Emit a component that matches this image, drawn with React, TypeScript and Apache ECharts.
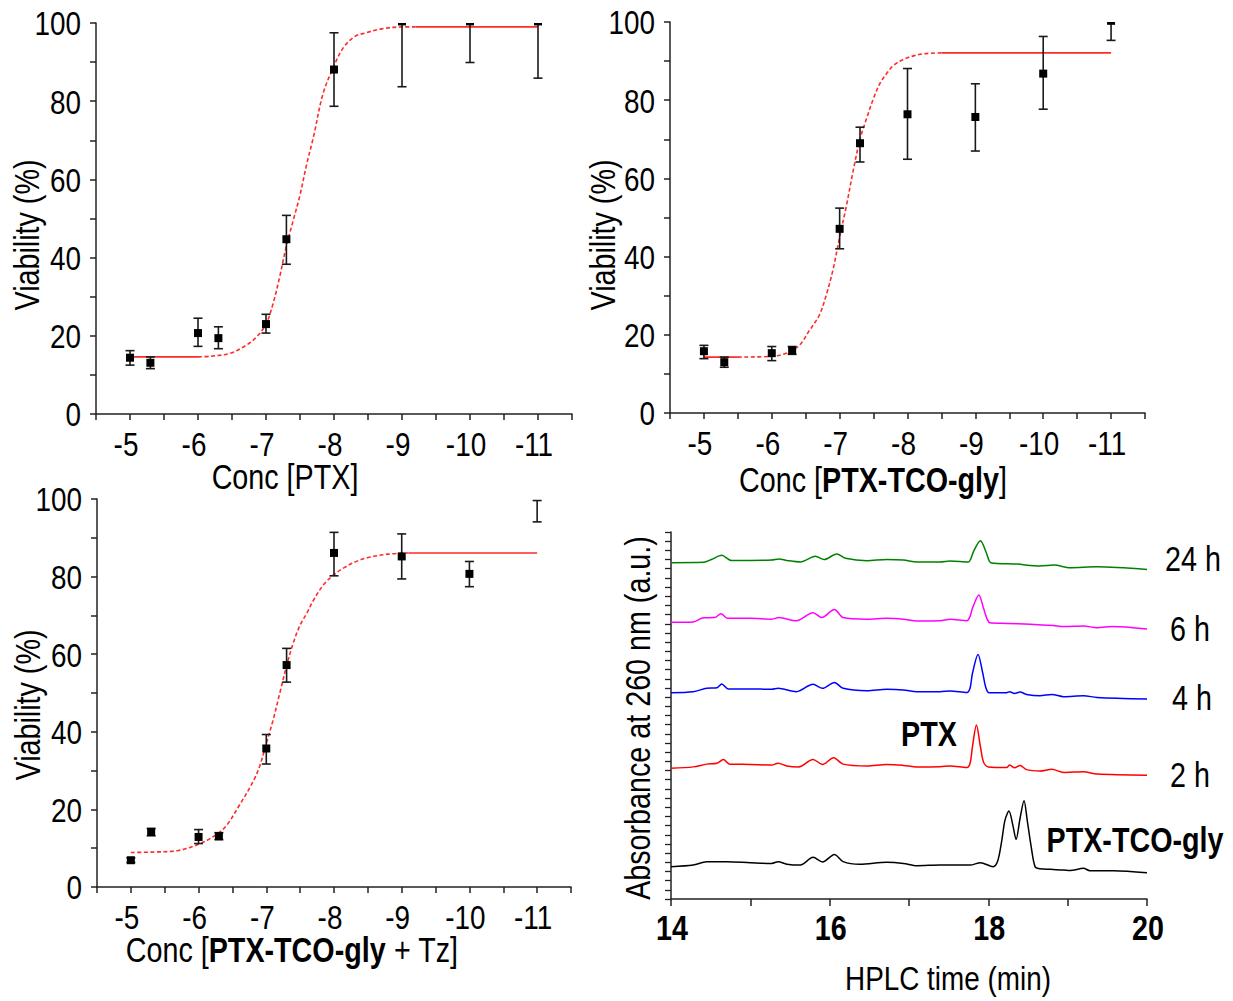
import React, { useEffect, useRef } from 'react';
import * as echarts from 'echarts';

// ---------- Dose–response data (log concentration) ----------
const concX = [-5, -5.3, -6, -6.3, -7, -7.3, -8, -9, -10, -11];

const p1Mean = [14.4, 13.1, 20.7, 19.4, 23.0, 44.7, 88.1, 100.4, 100.4, 100.4];
const p1Low = [12.5, 11.6, 17.3, 16.7, 20.7, 38.3, 78.7, 83.7, 89.9, 85.9];
const p1High = [16.2, 14.6, 24.5, 22.3, 25.5, 50.8, 97.5, 117.1, 110.9, 114.9];

const p2Mean = [15.8, 13.0, 15.3, 16.0, 47.1, 69.0, 76.4, 75.7, 86.8, 100.3];
const p2Low = [13.9, 11.7, 13.4, 15.0, 42.0, 64.2, 64.9, 67.0, 77.7, 95.3];
const p2High = [17.3, 14.3, 17.0, 17.0, 52.4, 73.1, 88.1, 84.2, 96.3, 105.3];

const p3Mean = [6.9, 14.2, 12.9, 13.1, 35.7, 57.2, 86.1, 85.2, 80.7, null];
const p3Low = [6.3, 13.2, 11.2, 12.2, 31.7, 52.8, 80.2, 79.4, 77.4, 94.1];
const p3High = [7.5, 15.1, 14.8, 14.0, 39.3, 61.5, 91.4, 91.0, 83.9, 99.6];

// fitted curves
const p1FitX = [-5, -5.5, -6, -6.2, -6.47, -6.7, -6.86, -7, -7.1, -7.2, -7.3, -7.4, -7.5, -7.6, -7.7, -7.84, -8, -8.13, -8.3, -8.47, -8.7, -9, -9.2, -10, -11];
const p1FitY = [14.6, 14.6, 14.6, 14.8, 15.5, 17.5, 19.7, 23, 28, 35, 43, 49.5, 56, 64, 71, 82, 89, 93.5, 96.5, 97.5, 98.5, 99, 99, 99, 99];

const p2FitX = [-5, -5.5, -6, -6.2, -6.4, -6.55, -6.7, -6.8, -6.9, -7.0, -7.1, -7.2, -7.3, -7.4, -7.5, -7.6, -7.7, -7.8, -7.95, -8.1, -8.25, -8.5, -9, -10, -11];
const p2FitY = [14.3, 14.3, 14.5, 15.2, 17.2, 21, 25, 30, 36.5, 45, 53, 62, 70, 75.5, 80.5, 84.5, 87, 89, 90.5, 91.4, 91.9, 92.1, 92.1, 92.1, 92.1];

const p3FitX = [-5, -5.3, -5.7, -6.0, -6.2, -6.4, -6.6, -6.8, -6.9, -7.0, -7.1, -7.2, -7.3, -7.4, -7.5, -7.6, -7.7, -7.85, -8.0, -8.15, -8.3, -8.5, -8.8, -9.1, -10, -11];
const p3FitY = [8.9, 9.0, 9.4, 11, 12.8, 15.6, 21, 27, 31, 37, 43, 50, 57, 63, 67.5, 70.6, 74, 78, 80.5, 82.3, 83.7, 84.9, 85.8, 86.1, 86.1, 86.1];

// tick labels
const concTicks = [-5, -6, -7, -8, -9, -10, -11];
const viabTicks = [0, 20, 40, 60, 80, 100];
const timeTicks = [14, 16, 18, 20];

// ---------- HPLC traces (time in min, absorbance a.u.) ----------
const blackT = [14.0, 14.28, 14.45, 14.7, 15.0, 15.27, 15.35, 15.46, 15.63, 15.79, 15.91, 16.06, 16.17, 16.38, 16.72, 16.93, 17.1, 17.39, 17.77, 17.9, 18.06, 18.12, 18.17, 18.21, 18.26, 18.31, 18.35, 18.4, 18.45, 18.49, 18.54, 18.59, 18.65, 18.78, 18.95, 19.03, 19.2, 19.28, 19.58, 20.0];
const blackV = [3.52, 3.7, 4.07, 4.07, 3.96, 3.88, 4.07, 3.8, 3.7, 4.54, 4.03, 4.86, 4.07, 3.78, 4.0, 3.88, 3.63, 3.7, 3.7, 3.96, 3.52, 4.2, 6.4, 8.6, 9.6, 8.0, 6.5, 8.8, 10.7, 8.6, 5.7, 3.5, 3.3, 3.23, 3.16, 3.1, 3.34, 3.09, 3.09, 2.87];

const redT = [14.0, 14.28, 14.45, 14.58, 14.66, 14.74, 15.0, 15.27, 15.35, 15.46, 15.61, 15.79, 15.91, 16.05, 16.17, 16.47, 16.72, 16.93, 17.1, 17.39, 17.52, 17.73, 17.77, 17.8, 17.85, 17.9, 17.94, 18.0, 18.23, 18.27, 18.33, 18.4, 18.48, 18.65, 18.8, 18.95, 19.2, 19.37, 20.0];
const redV = [14.24, 14.4, 14.7, 14.8, 15.2, 14.7, 14.67, 14.6, 14.8, 14.5, 14.4, 15.2, 14.67, 15.4, 14.7, 14.5, 14.67, 14.56, 14.39, 14.42, 14.5, 14.34, 14.8, 16.6, 18.96, 16.6, 14.9, 14.4, 14.34, 14.6, 14.3, 14.55, 14.1, 13.95, 14.13, 13.8, 13.87, 13.62, 13.5];

const blueT = [14.0, 14.28, 14.45, 14.58, 14.64, 14.72, 15.0, 15.27, 15.35, 15.58, 15.79, 15.91, 16.06, 16.17, 16.47, 16.72, 16.93, 17.1, 17.39, 17.52, 17.73, 17.77, 17.8, 17.87, 17.93, 17.97, 18.01, 18.23, 18.27, 18.33, 18.4, 18.48, 18.65, 18.8, 18.95, 19.2, 19.37, 20.0];
const blueV = [22.49, 22.6, 22.96, 23.03, 23.43, 22.9, 22.9, 22.85, 22.96, 22.6, 23.4, 22.96, 23.6, 22.96, 22.7, 22.85, 22.78, 22.6, 22.6, 22.67, 22.5, 23.0, 24.6, 26.66, 24.6, 23.0, 22.48, 22.48, 22.6, 22.4, 22.55, 22.3, 22.15, 22.3, 22.05, 22.15, 21.97, 21.8];

const magentaT = [14.0, 14.28, 14.41, 14.55, 14.63, 14.71, 15.0, 15.27, 15.36, 15.58, 15.79, 15.9, 16.06, 16.17, 16.47, 16.72, 16.93, 17.1, 17.39, 17.52, 17.73, 17.77, 17.8, 17.88, 17.94, 17.98, 18.02, 18.23, 18.53, 18.82, 18.95, 19.2, 19.37, 19.56, 20.0];
const magentaV = [30.15, 30.2, 30.65, 30.67, 31.1, 30.6, 30.6, 30.5, 30.67, 30.33, 31.2, 30.67, 31.56, 30.67, 30.5, 30.6, 30.5, 30.3, 30.33, 30.48, 30.33, 30.8, 31.68, 33.13, 31.68, 30.6, 30.1, 30.04, 29.94, 29.8, 29.7, 29.75, 29.57, 29.7, 29.43];

const greenT = [14.0, 14.41, 14.51, 14.64, 14.76, 15.0, 15.27, 15.36, 15.46, 15.63, 15.82, 15.93, 16.09, 16.2, 16.47, 16.72, 16.93, 17.1, 17.39, 17.52, 17.75, 17.78, 17.82, 17.9, 17.97, 18.0, 18.03, 18.36, 18.65, 18.83, 19.03, 19.37, 20.0];
const greenV = [36.66, 36.7, 37.0, 37.46, 36.9, 36.9, 36.94, 37.06, 36.9, 36.73, 37.35, 37.0, 37.6, 37.13, 36.88, 37.0, 36.94, 36.73, 36.73, 36.84, 36.73, 37.1, 38.0, 39.05, 37.85, 37.1, 36.66, 36.5, 36.3, 36.4, 36.1, 36.2, 35.9];

const traceLabels = ['24 h', '6 h', '4 h', '2 h'];

// ---------- styling ----------
const FONT = "'Liberation Sans', Arial, sans-serif";
const NARROW = 0.82; // reference uses a narrow sans face
const AX = '#222';

const pairs = (xs: number[], ys: (number | null)[]) => xs.map((x, i) => [x, ys[i]]);

const segment = (xs: number[], ys: number[], from: number, to: number) =>
  xs.map((x, i) => [x, ys[i]]).filter((p) => p[0] <= from && p[0] >= to);

const errRender = (params: any, api: any) => {
  const x = api.value(0);
  const m = api.value(1);
  const lo = api.value(2);
  const hi = api.value(3);
  const pLo = api.coord([x, lo]);
  const pHi = api.coord([x, hi]);
  const cw = 4.5;
  const st = { stroke: '#1a1a1a', lineWidth: 1.6 };
  const children: any[] = [
    { type: 'line', shape: { x1: pLo[0], y1: pLo[1], x2: pHi[0], y2: pHi[1] }, style: st },
    { type: 'line', shape: { x1: pLo[0] - cw, y1: pLo[1], x2: pLo[0] + cw, y2: pLo[1] }, style: st },
    { type: 'line', shape: { x1: pHi[0] - cw, y1: pHi[1], x2: pHi[0] + cw, y2: pHi[1] }, style: st },
  ];
  if (m !== null && m !== undefined && !isNaN(m)) {
    const pm = api.coord([x, m]);
    children.push({ type: 'rect', shape: { x: pm[0] - 4, y: pm[1] - 4, width: 8, height: 8 }, style: { fill: '#000' } });
  }
  return { type: 'group', children };
};

const concAxis = (gridIndex: number) => ({
  gridIndex,
  type: 'value',
  min: -11.5,
  max: -4.5,
  interval: 0.5,
  inverse: true,
  axisLine: { onZero: false, lineStyle: { color: AX, width: 1.5 } },
  axisTick: { length: 6, lineStyle: { color: AX, width: 1.5 } },
  axisLabel: { show: false },
  splitLine: { show: false },
});

const viabAxis = (gridIndex: number) => ({
  gridIndex,
  type: 'value',
  min: 0,
  max: 100,
  interval: 10,
  axisLine: { show: true, onZero: false, lineStyle: { color: AX, width: 1.5 } },
  axisTick: { show: true, length: 6, lineStyle: { color: AX, width: 1.5 } },
  axisLabel: { show: false },
  splitLine: { show: false },
});

const fitSeries = (idx: number, xs: number[], ys: number[], dashFrom: number, dashTo: number) => {
  const base = {
    type: 'line',
    xAxisIndex: idx,
    yAxisIndex: idx,
    showSymbol: false,
    symbol: 'none',
    smooth: 0.35,
    z: 1,
    clip: true,
  };
  return [
    { ...base, data: segment(xs, ys, 0, dashFrom), lineStyle: { color: '#ff2a2a', width: 1.6 } },
    { ...base, data: segment(xs, ys, dashFrom, dashTo), lineStyle: { color: '#ff2a2a', width: 1.6, type: [4, 2.5] } },
    { ...base, data: segment(xs, ys, dashTo, -12), lineStyle: { color: '#ff2a2a', width: 1.6 } },
  ];
};

const errSeries = (idx: number, mean: (number | null)[], low: number[], high: number[]) => ({
  type: 'custom',
  xAxisIndex: idx,
  yAxisIndex: idx,
  clip: true,
  z: 3,
  renderItem: errRender,
  dimensions: ['x', 'm', 'lo', 'hi'],
  encode: { x: 0, y: [2, 3] },
  data: concX.map((x, i) => [x, mean[i] === null ? NaN : mean[i], low[i], high[i]]),
});

const hplcLine = (ts: number[], vs: number[], color: string) => ({
  type: 'line',
  xAxisIndex: 3,
  yAxisIndex: 3,
  showSymbol: false,
  symbol: 'none',
  smooth: 0.3,
  data: pairs(ts, vs),
  lineStyle: { color, width: 1.5 },
});

const txt = (text: string, x: number, y: number, opts: any = {}) => ({
  type: 'text',
  x,
  y,
  rotation: opts.rotation || 0,
  scaleX: NARROW,
  style: {
    text,
    fill: '#000',
    fontSize: opts.fontSize || 34,
    fontFamily: FONT,
    fontWeight: opts.bold ? 'bold' : 'normal',
    align: opts.align || 'center',
    verticalAlign: 'middle',
    rich: opts.rich,
  },
});

const boldRich = (size: number) => ({
  b: { fontWeight: 'bold', fontSize: size, fontFamily: FONT, fill: '#000' },
  n: { fontWeight: 'normal', fontSize: size, fontFamily: FONT, fill: '#000' },
});

export default function App() {
  const ref = useRef<HTMLDivElement>(null);

  useEffect(() => {
    if (!ref.current) return;
    const chart = echarts.init(ref.current, undefined, { renderer: 'svg' });

    const option: any = {
      animation: false,
      backgroundColor: '#fff',
      grid: [
        { left: 96, top: 23, width: 476, height: 391 },
        { left: 670, top: 22, width: 475, height: 391 },
        { left: 97, top: 499, width: 474, height: 388 },
        { left: 671, top: 532, width: 476, height: 367 },
      ],
      xAxis: [
        concAxis(0),
        concAxis(1),
        concAxis(2),
        {
          gridIndex: 3,
          type: 'value',
          min: 14,
          max: 20,
          interval: 1,
          axisLine: { onZero: false, lineStyle: { color: AX, width: 1.5 } },
          axisTick: { length: 7, lineStyle: { color: AX, width: 1.5 } },
          axisLabel: { show: false },
          splitLine: { show: false },
        },
      ],
      yAxis: [
        viabAxis(0),
        viabAxis(1),
        viabAxis(2),
        {
          gridIndex: 3,
          type: 'value',
          min: 0,
          max: 40,
          interval: 1,
          axisLine: { show: true, onZero: false, lineStyle: { color: AX, width: 1.5 } },
          axisTick: { show: true, length: 6, lineStyle: { color: AX, width: 1.3 } },
          axisLabel: { show: false },
          splitLine: { show: false },
        },
      ],
      series: [
        ...fitSeries(0, p1FitX, p1FitY, -6.0, -9.2),
        ...fitSeries(1, p2FitX, p2FitY, -5.5, -8.5),
        ...fitSeries(2, p3FitX, p3FitY, -5.0, -9.1),
        errSeries(0, p1Mean, p1Low, p1High),
        errSeries(1, p2Mean, p2Low, p2High),
        errSeries(2, p3Mean, p3Low, p3High),
        hplcLine(blackT, blackV, '#000000'),
        hplcLine(redT, redV, '#ff0000'),
        hplcLine(blueT, blueV, '#0000ff'),
        hplcLine(magentaT, magentaV, '#ff00ff'),
        hplcLine(greenT, greenV, '#008000'),
      ],
    };

    chart.setOption(option);

    // tick labels placed through the axes' own scales (narrow face emulated)
    const tickTexts: any[] = [];
    for (let g = 0; g < 3; g++) {
      const axisY = chart.convertToPixel({ yAxisIndex: g }, 0) as number;
      const axisX = chart.convertToPixel({ xAxisIndex: g }, -4.5) as number;
      concTicks.forEach((v) => {
        const px = chart.convertToPixel({ xAxisIndex: g }, v) as number;
        tickTexts.push(txt(String(v), px - 4, axisY + 31, { fontSize: 34 }));
      });
      viabTicks.forEach((v) => {
        const py = chart.convertToPixel({ yAxisIndex: g }, v) as number;
        tickTexts.push(txt(String(v), axisX - 15, py + 1, { fontSize: 34, align: 'right' }));
      });
    }
    const hAxisY = chart.convertToPixel({ yAxisIndex: 3 }, 0) as number;
    timeTicks.forEach((v) => {
      const px = chart.convertToPixel({ xAxisIndex: 3 }, v) as number;
      tickTexts.push(txt(String(v), px + 1, hAxisY + 29, { fontSize: 35, bold: true }));
    });

    chart.setOption({
      graphic: [
        ...tickTexts,
        txt('Conc [PTX]', 285, 477, { fontSize: 35 }),
        txt('{n|Conc [}{b|PTX-TCO-gly}{n|]}', 873, 480, { rich: boldRich(35), fontSize: 35 }),
        txt('{n|Conc [}{b|PTX-TCO-gly}{n| + Tz]}', 292, 950, { rich: boldRich(35), fontSize: 35 }),
        txt('Viability (%)', 27, 235, { rotation: Math.PI / 2, fontSize: 35 }),
        txt('Viability (%)', 603, 235, { rotation: Math.PI / 2, fontSize: 35 }),
        txt('Viability (%)', 28, 705, { rotation: Math.PI / 2, fontSize: 35 }),
        txt('Absorbance at 260 nm (a.u.)', 638, 718, { rotation: Math.PI / 2, fontSize: 35 }),
        txt('HPLC time (min)', 948, 979, { fontSize: 34 }),
        txt(traceLabels[0], 1165, 559, { align: 'left', fontSize: 35 }),
        txt(traceLabels[1], 1170, 629, { align: 'left', fontSize: 35 }),
        txt(traceLabels[2], 1172, 698, { align: 'left', fontSize: 35 }),
        txt(traceLabels[3], 1170, 775, { align: 'left', fontSize: 35 }),
        txt('PTX', 929, 734, { bold: true, fontSize: 35 }),
        txt('PTX-TCO-gly', 1135, 840, { bold: true, fontSize: 35 }),
      ],
    });

    return () => chart.dispose();
  }, []);

  return (
    <div
      ref={ref}
      style={{ position: 'absolute', left: 0, top: 0, width: 1233, height: 1001, background: '#fff' }}
    />
  );
}
